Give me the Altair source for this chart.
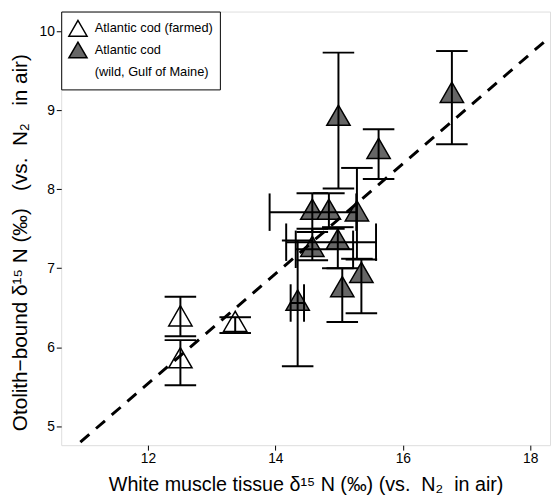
import altair as alt
import pandas as pd

# ---- data ----
farmed_x = [12.51, 12.51, 13.37]
farmed_y = [6.36, 5.83, 6.29]
farmed_ylo = [6.14, 5.52, 6.18]
farmed_yhi = [6.64, 6.09, 6.38]

wild_x = [14.35, 14.58, 14.58, 14.84, 15.28, 14.98, 15.05, 15.35, 14.99, 15.62, 16.77]
wild_y = [6.56, 7.24, 7.71, 7.71, 7.69, 7.33, 6.73, 6.91, 8.90, 8.48, 9.19]
wild_ylo = [5.76, 7.10, 7.46, 7.50, 7.12, 7.00, 6.32, 6.43, 8.01, 8.13, 8.57]
wild_yhi = [7.35, 7.50, 7.95, 7.95, 8.27, 7.52, 7.00, 7.11, 9.73, 8.76, 9.75]
# horizontal error bars (only some points have them)
hbar_y = [6.56, 7.24, 7.71, 7.33]
hbar_xlo = [14.24, 14.32, 13.91, 14.17]
hbar_xhi = [14.45, 15.22, 15.27, 15.58]

line_x = [10.94, 18.31]
line_y = [4.80, 9.93]

x_ticks = [12, 14, 16, 18]
y_ticks = [5, 6, 7, 8, 9, 10]

g_farmed = "Atlantic cod (farmed)"
g_wild = "Atlantic cod"
g_wild2 = "(wild, Gulf of Maine)"

NB = "\u00a0"
x_title = "White muscle tissue δ¹⁵ N (‰) (vs." + NB + " N₂" + NB + "  in air)"
y_title = "Otolith−bound δ¹⁵ N (‰)" + NB + NB + NB + "(vs." + NB + " N₂" + NB + NB + " in air)"

pts = pd.DataFrame({
    "x": farmed_x + wild_x,
    "y": farmed_y + wild_y,
    "group": [g_farmed] * len(farmed_x) + [g_wild] * len(wild_x),
})
vbars = pd.DataFrame({
    "x": farmed_x + wild_x,
    "ylo": farmed_ylo + wild_ylo,
    "yhi": farmed_yhi + wild_yhi,
})
hbars = pd.DataFrame({"y": hbar_y, "xlo": hbar_xlo, "xhi": hbar_xhi})
line_df = pd.DataFrame({"x": line_x, "y": line_y})

FONT = "Liberation Sans"
xs = alt.Scale(domain=[10.64, 18.31], nice=False, zero=False)
ys = alt.Scale(domain=[4.76, 10.25], nice=False, zero=False)

xaxis = alt.Axis(values=x_ticks, format="d", title=x_title,
                 grid=False, domain=False, tickSize=5, tickColor="black",
                 labelFontSize=14, labelColor="black", labelFont=FONT, labelPadding=2,
                 titleFont=FONT, titleFontSize=20, titleFontWeight="normal",
                 titleColor="black", titlePadding=9)
yaxis = alt.Axis(values=y_ticks, format="d", title=y_title,
                 grid=False, domain=False, tickSize=5, tickColor="black",
                 labelFontSize=14, labelColor="black", labelFont=FONT, labelPadding=2,
                 titleFont=FONT, titleFontSize=21, titleFontWeight="normal",
                 titleColor="black", titlePadding=9, titleY=234)

legend = alt.Legend(title=None, orient="top-left", offset=0, strokeColor="black",
                    fillColor="white", padding=7, cornerRadius=0,
                    symbolType="triangle-up", symbolSize=340, symbolStrokeWidth=1.5,
                    labelFont=FONT, labelFontSize=13, labelColor="black",
                    labelOffset=7, rowPadding=0)

dom = [g_farmed, g_wild, g_wild2]
points = alt.Chart(pts).mark_point(shape="triangle-up", filled=True, size=560,
                                   strokeWidth=1.5, opacity=1, yOffset=-3).encode(
    x=alt.X("x:Q", scale=xs, axis=xaxis),
    y=alt.Y("y:Q", scale=ys, axis=yaxis),
    fill=alt.Fill("group:N", scale=alt.Scale(domain=dom, range=["white", "#666666", "transparent"]),
                  legend=legend),
    stroke=alt.Stroke("group:N", scale=alt.Scale(domain=dom, range=["black", "black", "transparent"]),
                      legend=legend),
)

vrule = alt.Chart(vbars).mark_rule(color="black", strokeWidth=2).encode(
    x="x:Q", y="ylo:Q", y2="yhi:Q")
vcap_lo = alt.Chart(vbars).mark_tick(color="black", orient="horizontal", size=32,
                                     thickness=2, opacity=1).encode(x="x:Q", y="ylo:Q")
vcap_hi = alt.Chart(vbars).mark_tick(color="black", orient="horizontal", size=32,
                                     thickness=2, opacity=1).encode(x="x:Q", y="yhi:Q")
hrule = alt.Chart(hbars).mark_rule(color="black", strokeWidth=2).encode(
    y="y:Q", x="xlo:Q", x2="xhi:Q")
hcap_lo = alt.Chart(hbars).mark_tick(color="black", orient="vertical", size=38,
                                     thickness=2, opacity=1).encode(x="xlo:Q", y="y:Q")
hcap_hi = alt.Chart(hbars).mark_tick(color="black", orient="vertical", size=38,
                                     thickness=2, opacity=1).encode(x="xhi:Q", y="y:Q")

fit = alt.Chart(line_df).mark_line(color="black", strokeWidth=3, strokeDash=[12, 9],
                                   clip=True).encode(x="x:Q", y="y:Q")

chart = alt.layer(points, vrule, vcap_lo, vcap_hi, hrule, hcap_lo, hcap_hi, fit).properties(
    width=496, height=440,
    autosize=alt.AutoSizeParams(type="none"),
    padding={"left": 54, "top": 0, "right": 2, "bottom": 50},
).configure_view(stroke="black", strokeWidth=1.2).configure(background="white")

chart.save("out.html", embed_options={"renderer": "svg", "actions": False})
